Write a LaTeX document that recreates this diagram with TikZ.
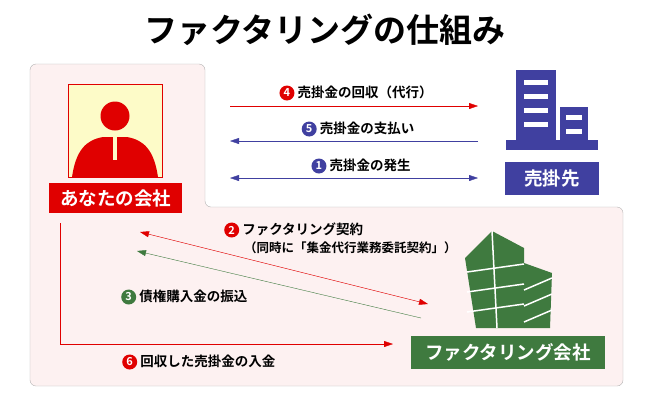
\documentclass[tikz,border=0pt]{standalone}
\usepackage{fontspec}
\setmainfont{Noto Sans CJK JP}
\newfontfamily\jpbold{Noto Sans CJK JP Bold}
\usetikzlibrary{arrows.meta}
\definecolor{myred}{HTML}{E00000}
\definecolor{myblue}{HTML}{4040A0}
\definecolor{mygreen}{HTML}{3F7A3F}
\definecolor{panelpink}{HTML}{FDF1F1}
\definecolor{faceyellow}{HTML}{FDFBC8}
\newcommand{\stepnum}[2]{\tikz[baseline=-0.35em]\node[circle,fill=#1,text=white,inner sep=0pt,minimum size=15pt,font=\jpbold\fontsize{11}{11}\selectfont]{#2};}
\begin{document}
\begin{tikzpicture}[x=1pt,y=-1pt,
    labelbox/.style={rectangle, text=white, font=\jpbold\fontsize{18.5}{18.5}\selectfont, anchor=north west, inner sep=0pt},
    flowlabel/.style={font=\jpbold\fontsize{13.5}{15}\selectfont, inner sep=1pt},
    arrow/.style={-{Triangle[length=9pt,width=6pt]}, thin}
]
    \useasboundingbox (0,0) rectangle (650,400);
    \node[font=\jpbold\fontsize{33}{33}\selectfont] (title) at (325,30) {ファクタリングの仕組み};
    % panel
    \draw[gray!60, fill=panelpink, rounded corners=6pt]
        (30,64) -- (205,64) -- (205,207) -- (623,207) -- (623,386) -- (30,386) -- cycle;
    % person
    \draw[myred, fill=faceyellow] (68,84) rectangle (162,177);
    \fill[myred] (115,116) circle (14.5);
    \fill[myred] (72,177) .. controls (76,150) and (86,140) .. (103,137) -- (127,137)
        .. controls (144,140) and (154,150) .. (158,177) -- cycle;
    \fill[faceyellow] (113,137) rectangle (117,160);
    \node[labelbox, fill=myred, minimum width=133pt, minimum height=30pt, anchor=center] (mycompany) at (115.5,198) {あなたの会社};
    % customer building
    \fill[myblue] (516,70) rectangle (556,150);
    \fill[myblue] (560,107) rectangle (588,150);
    \fill[myblue] (506,140) rectangle (598,150);
    \foreach \yy in {80,94,108,122} \fill[white] (524,\yy) rectangle (548,\yy+5);
    \foreach \yy in {115,129} \fill[white] (566,\yy) rectangle (582,\yy+5);
    \node[labelbox, fill=myblue, minimum width=94pt, minimum height=33pt, anchor=center] (customer) at (552,178.5) {売掛先};
    % factoring building
    \fill[mygreen] (465,258) -- (492,231) -- (524,248) -- (524,328) -- (476,328) -- cycle;
    \fill[mygreen] (524,263) -- (552,273) -- (550,328) -- (524,328) -- cycle;
    \foreach \yy in {272,292,312} \draw[white, line width=1.5pt] (467,\yy) -- (524,\yy-8);
    \foreach \yy in {290,306,322} \draw[white, line width=1.5pt] (524,\yy) -- (552,\yy-12);
    \draw[white, line width=1.5pt] (492,231) -- (497,328);
    \node[labelbox, fill=mygreen, minimum width=194pt, minimum height=33pt, anchor=center] (factor) at (508,352.5) {ファクタリング会社};
    % coordinates
    \coordinate (a4s) at (230,106); \coordinate (a4e) at (478,106);
    \coordinate (a5s) at (478,141); \coordinate (a5e) at (230,141);
    \coordinate (a1s) at (230,178); \coordinate (a1e) at (478,178);
    \coordinate (a2s) at (140,232); \coordinate (a2e) at (428,304);
    \coordinate (a3s) at (421,318); \coordinate (a3e) at (137,251);
    \coordinate (a6s) at (60,223); \coordinate (a6c) at (60,344); \coordinate (a6e) at (393,344);
    \draw[arrow, myred] (a4s) -- (a4e);
    \draw[arrow, myblue] (a5s) -- (a5e);
    \draw[arrow, myblue, {Triangle[length=9pt,width=6pt]}-{Triangle[length=9pt,width=6pt]}] (a1s) -- (a1e);
    \draw[arrow, myred, {Triangle[length=9pt,width=6pt]}-{Triangle[length=9pt,width=6pt]}] (a2s) -- (a2e);
    \draw[arrow, mygreen] (a3s) -- (a3e);
    \draw[arrow, myred] (a6s) -- (a6c) -- (a6e);
    % labels
    \node[flowlabel] (l4) at (356,93) {\stepnum{myred}{4} 売掛金の回収（代行）};
    \node[flowlabel] (l5) at (358,129) {\stepnum{myblue}{5} 売掛金の支払い};
    \node[flowlabel] (l1) at (361,166) {\stepnum{myblue}{1} 売掛金の発生};
    \node[flowlabel, anchor=west] (l2) at (223,230) {\stepnum{myred}{2} ファクタリング契約};
    \node[flowlabel, anchor=west] (l2b) at (243,248) {\fontsize{12.5}{14}\selectfont（同時に「集金代行業務委託契約」）};
    \node[flowlabel, anchor=west] (l3) at (120,297) {\stepnum{mygreen}{3} 債権購入金の振込};
    \node[flowlabel, anchor=west] (l6) at (121,362) {\stepnum{myred}{6} 回収した売掛金の入金};
\end{tikzpicture}
\end{document}
